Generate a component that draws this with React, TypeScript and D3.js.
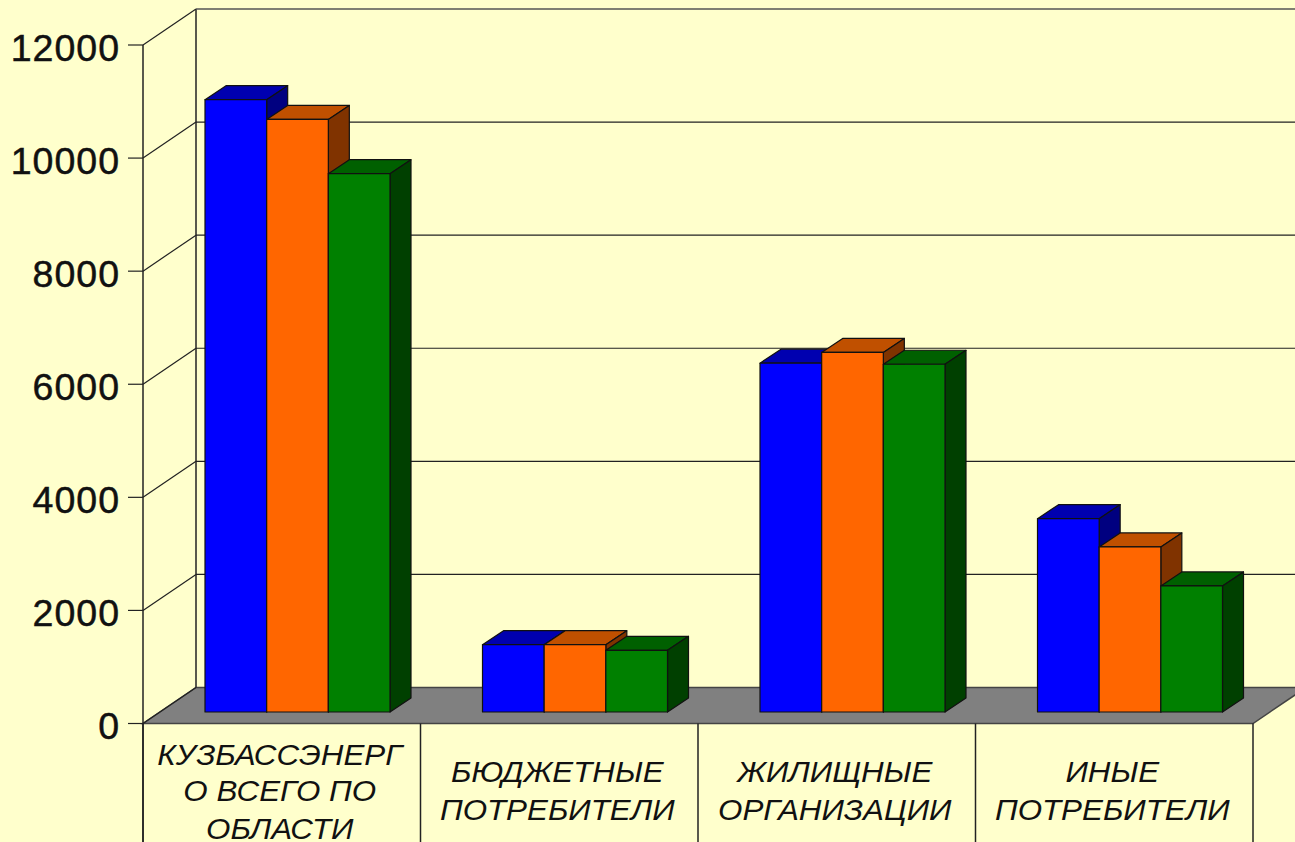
import React from "react";
import * as d3 from "d3";

const categories = [
  ["КУЗБАССЭНЕРГ", "О ВСЕГО ПО", "ОБЛАСТИ"],
  ["БЮДЖЕТНЫЕ", "ПОТРЕБИТЕЛИ"],
  ["ЖИЛИЩНЫЕ", "ОРГАНИЗАЦИИ"],
  ["ИНЫЕ", "ПОТРЕБИТЕЛИ"],
];
const seriesA = [10830, 1190, 6170, 3420];
const seriesB = [10480, 1190, 6360, 2920];
const seriesC = [9520, 1090, 6150, 2230];
const ticks = [0, 2000, 4000, 6000, 8000, 10000, 12000];
const series = [
  { values: seriesA, front: "#0000ff", top: "#0000b0", side: "#000080" },
  { values: seriesB, front: "#ff6600", top: "#c05000", side: "#803300" },
  { values: seriesC, front: "#008000", top: "#006000", side: "#004000" },
];

const W = 1295, H = 842;
const y = d3.scaleLinear().domain([0, 12000]).range([723.5, 45]);
const x0 = d3.scaleBand<number>().domain([0, 1, 2, 3]).range([143, 1253]);
const x1 = d3.scaleBand<number>().domain([0, 1, 2]).range([62, 247]);
const DX = 53, DY = 36;      // depth of the chart box
const bdx = 21, bdy = 14;    // depth of one bar
const oy = -11.5;            // bar front plane offset from the chart front
const font = "'Liberation Sans', Arial, sans-serif";
const labelStretch = 1.08;

const poly = (p: number[][]) => p.map((q) => q.join(",")).join(" ");

export default function App() {
  const y0 = y(0);
  const xEnd = x0.range()[1];
  return (
    <svg width={W} height={H} viewBox={`0 0 ${W} ${H}`} style={{ position: "fixed", left: 0, top: 0, background: "#ffffcc" }}>
      {/* floor */}
      <polygon points={poly([[143, y0], [xEnd, y0], [xEnd + DX, y0 - DY], [143 + DX, y0 - DY]])} fill="#808080" stroke="#444" strokeWidth={1.5} />
      {/* walls and grid */}
      <line x1={143 + DX} x2={143 + DX} y1={y(12000) - DY} y2={y0 - DY} stroke="#222" strokeWidth={1.5} />
      <line x1={143} x2={143} y1={y(12000)} y2={H} stroke="#222" strokeWidth={1.5} />
      {ticks.map((t) => (
        <g key={t}>
          {t > 0 && <line x1={143 + DX} x2={W} y1={y(t) - DY} y2={y(t) - DY} stroke={t === 12000 ? "#555" : "#222"} strokeWidth={t === 12000 ? 1.6 : 1.2} />}
          <line x1={143} x2={143 + DX} y1={y(t)} y2={y(t) - DY} stroke="#222" strokeWidth={1.2} />
          <line x1={128} x2={143} y1={y(t)} y2={y(t)} stroke="#222" strokeWidth={1.2} />
          <text x={120} y={y(t) + 15.5} textAnchor="end" fontFamily={font} fontSize={37.5} letterSpacing={1} fill="#111" stroke="#111" strokeWidth={0.5}>{t}</text>
        </g>
      ))}
      {/* bars */}
      {categories.map((_, c) =>
        series.map((s, i) => {
          const l = (x0(c) as number) + (x1(i) as number);
          const r = l + x1.bandwidth();
          const b = y0 + oy;
          const t = y(s.values[c]) + oy;
          return (
            <g key={`${c}-${i}`} stroke="#111" strokeWidth={1.2} strokeLinejoin="round">
              <polygon points={poly([[l, t], [r, t], [r + bdx, t - bdy], [l + bdx, t - bdy]])} fill={s.top} />
              <polygon points={poly([[r, t], [r + bdx, t - bdy], [r + bdx, b - bdy], [r, b]])} fill={s.side} />
              <rect x={l} y={t} width={r - l} height={b - t} fill={s.front} />
            </g>
          );
        })
      )}
      {/* category separators */}
      {[0, 1, 2, 3, 4].map((k) => {
        const xx = k < 4 ? (x0(k) as number) : xEnd;
        return <line key={k} x1={xx} x2={xx} y1={y0} y2={H} stroke="#222" strokeWidth={1.5} />;
      })}
      {/* category labels */}
      {categories.map((lines, c) => {
        const cx = (x0(c) as number) + x0.bandwidth() / 2 - 2;
        const ys = lines.length === 3 ? [765, 801, 839] : [782, 820];
        return lines.map((ln, j) => (
          <text key={j} transform={`translate(${cx},${ys[j]}) scale(${labelStretch},1)`} textAnchor="middle" fontFamily={font} fontSize={29} fontStyle="italic" fill="#111">{ln}</text>
        ));
      })}
    </svg>
  );
}
